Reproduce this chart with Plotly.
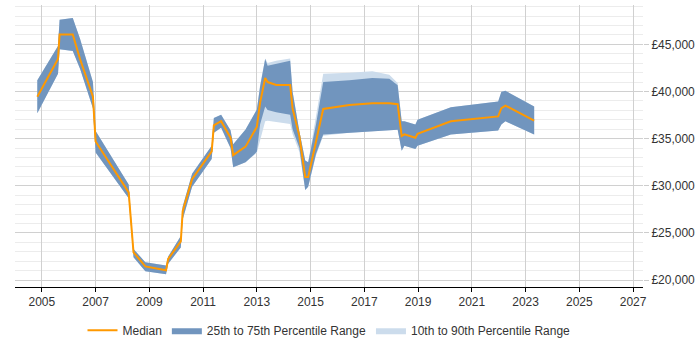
import plotly.graph_objects as go

years = [2004.83, 2005.60, 2005.66, 2006.15, 2006.42, 2006.90, 2007.00, 2008.23, 2008.41, 2008.85,
         2009.62, 2009.70, 2010.17, 2010.24, 2010.59, 2011.32, 2011.40, 2011.67, 2012.02, 2012.12,
         2012.58, 2013.00, 2013.12, 2013.31, 2013.40, 2013.72, 2014.24, 2014.33, 2014.58, 2014.80,
         2014.91, 2015.20, 2015.47, 2016.44, 2017.30, 2017.93, 2018.24, 2018.39, 2018.49, 2018.90,
         2018.98, 2020.22, 2021.98, 2022.10, 2022.25, 2023.32]

p50 = [39450, 43440, 46040, 46040, 43450, 39450, 34700, 29300, 22950, 21450,
       21050, 22250, 24100, 27300, 30700, 33650, 36400, 36850, 35100, 33250,
       34150, 36250, 38800, 41430, 41000, 40700, 40700, 38200, 35300, 30940,
       30940, 34600, 38150, 38570, 38750, 38750, 38650, 35280, 35450, 35100,
       35520, 36840, 37360, 38230, 38510, 36920]

p25 = [37700, 41875, 44480, 44300, 42400, 38230, 33540, 28680, 22430, 20940,
       20625, 21740, 23470, 26430, 29900, 32840, 35625, 36150, 34000, 31980,
       32500, 33600, 36500, 38400, 38050, 37800, 37530, 36000, 34060, 29550,
       29900, 33370, 35450, 35625, 35800, 35950, 35950, 33720, 34240, 33890,
       34240, 35450, 35870, 36500, 36840, 35450]

p75 = [41180, 44830, 47600, 47780, 45600, 41000, 35800, 30135, 23300, 21900,
       21560, 22500, 24690, 27800, 31280, 34240, 37190, 37530, 35900, 34400,
       35970, 38100, 40500, 43440, 42740, 42950, 43260, 39970, 35800, 32670,
       32500, 36500, 41010, 41180, 41420, 41350, 40660, 36840, 36840, 36500,
       37010, 38330, 38930, 39970, 40070, 38400]

p10 = [37700, 41875, 44480, 44300, 42400, 38230, 33540, 28680, 22430, 20940,
       20625, 21740, 23470, 26430, 29900, 32840, 35625, 36150, 34000, 31980,
       32500, 33500, 34800, 36840, 36900, 36750, 36560, 35500, 33600, 29550,
       29900, 33200, 35300, 35625, 35800, 35950, 35950, 33720, 34240, 33890,
       34240, 35450, 35870, 36500, 36840, 35450]

p90 = [41180, 44830, 47600, 47780, 45600, 41000, 35800, 30135, 23300, 21900,
       21560, 22500, 24690, 27800, 31280, 34240, 37190, 37530, 35900, 34400,
       35970, 38100, 40700, 43500, 43020, 43250, 43500, 39970, 35800, 32670,
       32500, 37500, 41875, 42000, 42150, 41770, 40900, 36840, 36840, 36500,
       37010, 38330, 38930, 39970, 40070, 38400]

x_ticks = list(range(2005, 2028, 2))
y_ticks = [20000, 25000, 30000, 35000, 40000, 45000]
y_labels = ["£20,000", "£25,000", "£30,000", "£35,000", "£40,000", "£45,000"]

LIGHT = "rgb(204,220,236)"
DARK = "rgb(113,149,190)"
ORANGE = "rgb(255,153,0)"

fig = go.Figure()
fig.add_trace(go.Scatter(x=years, y=p90, mode="lines", line=dict(width=0, color=LIGHT),
                         showlegend=False, hoverinfo="skip"))
fig.add_trace(go.Scatter(x=years, y=p10, mode="lines", line=dict(width=0, color=LIGHT),
                         fill="tonexty", fillcolor=LIGHT, name="10th to 90th Percentile Range",
                         legendrank=3))
fig.add_trace(go.Scatter(x=years, y=p75, mode="lines", line=dict(width=0, color=DARK),
                         showlegend=False, hoverinfo="skip"))
fig.add_trace(go.Scatter(x=years, y=p25, mode="lines", line=dict(width=0, color=DARK),
                         fill="tonexty", fillcolor=DARK, name="25th to 75th Percentile Range",
                         legendrank=2))
fig.add_trace(go.Scatter(x=years, y=p50, mode="lines", line=dict(width=2, color=ORANGE),
                         name="Median", legendrank=1))

fig.update_layout(
    width=700, height=350,
    margin=dict(l=15, r=57, t=5, b=58),
    plot_bgcolor="white", paper_bgcolor="white",
    font=dict(family="Liberation Sans, Arial, sans-serif", size=12, color="#333"),
    showlegend=True,
    legend=dict(orientation="h", x=0.5, xanchor="center", y=-0.153, yanchor="middle",
                font=dict(size=12, color="#333"), itemwidth=30, traceorder="normal"),
    xaxis=dict(range=[2004.0, 2027.37], tickvals=x_ticks, ticktext=[str(v) for v in x_ticks],
               showgrid=True, gridcolor="#d0d0d0", gridwidth=1,
               showline=True, linecolor="#000", linewidth=1,
               ticks="outside", ticklen=4, tickcolor="#000", zeroline=False),
    yaxis=dict(range=[19271, 49170], side="right", tickvals=y_ticks, ticktext=y_labels,
               showgrid=True, gridcolor="#d0d0d0", gridwidth=1,
               ticks="outside", ticklen=5, tickcolor="#ccc", zeroline=False,
               minor=dict(dtick=1000, tick0=0, showgrid=True, gridcolor="#ececec", ticks="")),
)

fig.write_html("out.html")
